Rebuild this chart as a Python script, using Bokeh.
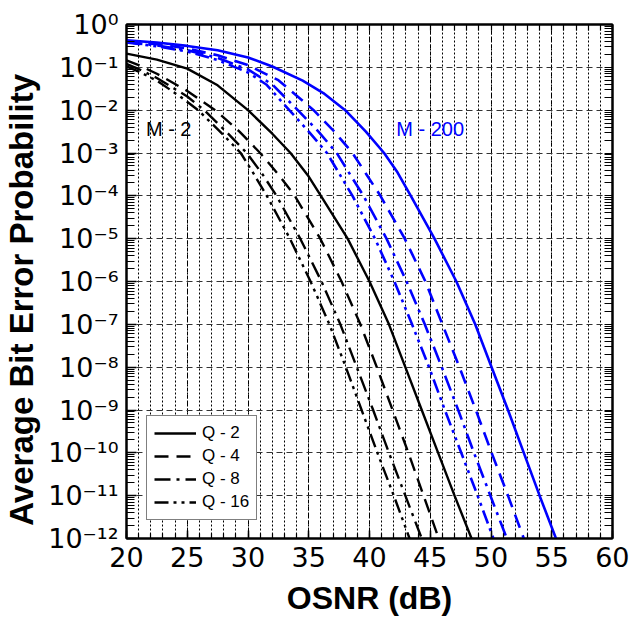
import numpy as np
from bokeh.plotting import figure
from bokeh.models import FixedTicker, LinearAxis, LogAxis, Legend, LegendItem, Label
from bokeh.embed import file_html
from bokeh.resources import INLINE

# ---------------- data (log10 of average bit error probability) ----------------
# M - 2 (black)
m2_q2_osnr = [20, 22.5, 25, 27.5, 30, 32, 33.5, 35, 36, 38.2, 40, 41.6, 42.95, 44.3, 45.65, 47.0, 48.4]
m2_q2_log = [-0.68, -0.82, -1.03, -1.42, -2.0, -2.55, -3.0, -3.55, -4.0, -5, -6, -7, -8, -9, -10, -11, -12]

m2_q4_osnr = [20, 21, 22.5, 25, 27.3, 29.3, 31.0, 32.5, 33.85, 35.95, 37.7, 39.25, 40.6, 41.9, 43.2, 44.45, 45.7]
m2_q4_log = [-0.84, -0.95, -1.15, -1.55, -2.0, -2.5, -3.0, -3.5, -4.0, -5, -6, -7, -8, -9, -10, -11, -12]

m2_q8_osnr = [20, 21, 22.5, 25, 26.4, 28.2, 29.9, 31.2, 32.35, 34.3, 36.05, 37.6, 38.95, 40.3, 41.6, 42.95, 44.3]
m2_q8_log = [-0.92, -1.04, -1.25, -1.68, -2.0, -2.5, -3.0, -3.5, -4.0, -5, -6, -7, -8, -9, -10, -11, -12]

m2_q16_osnr = [20, 21, 22.5, 24.5, 25.9, 27.7, 29.4, 30.5, 31.55, 33.45, 35.15, 36.7, 38.05, 39.35, 40.65, 42.0, 43.3]
m2_q16_log = [-0.98, -1.1, -1.31, -1.7, -2.0, -2.5, -3.0, -3.5, -4.0, -5, -6, -7, -8, -9, -10, -11, -12]

# M - 200 (blue)
m200_q2_osnr = [20, 22.5, 25, 27.5, 30, 32, 34.5, 36.2, 38, 39.7, 41.2, 42.3, 43.4, 45.35, 47.15, 48.7, 50.05, 51.4, 52.7, 54.0, 55.35]
m200_q2_log = [-0.37, -0.42, -0.5, -0.6, -0.77, -0.98, -1.31, -1.6, -2.0, -2.5, -3.0, -3.45, -4.0, -5, -6, -7, -8, -9, -10, -11, -12]

m200_q4_osnr = [20, 22.5, 25, 27.5, 30, 32.5, 35.4, 37.1, 38.6, 39.75, 40.9, 42.9, 44.6, 46.0, 47.4, 48.75, 50.05, 51.4, 52.7]
m200_q4_log = [-0.39, -0.46, -0.56, -0.72, -0.95, -1.3, -2.0, -2.5, -3.0, -3.5, -4, -5, -6, -7, -8, -9, -10, -11, -12]

m200_q8_osnr = [20, 22.5, 25, 27.5, 30, 32, 34.1, 35.8, 37.3, 38.4, 39.5, 41.4, 43.05, 44.55, 45.95, 47.3, 48.6, 49.95, 51.3]
m200_q8_log = [-0.41, -0.49, -0.6, -0.78, -1.05, -1.4, -2.0, -2.5, -3.0, -3.5, -4, -5, -6, -7, -8, -9, -10, -11, -12]

m200_q16_osnr = [20, 22.5, 25, 27.5, 30, 31.5, 33.4, 35.0, 36.5, 37.55, 38.6, 40.45, 42.05, 43.5, 44.9, 46.2, 47.55, 48.9, 50.2]
m200_q16_log = [-0.42, -0.51, -0.63, -0.83, -1.12, -1.4, -2.0, -2.5, -3.0, -3.5, -4, -5, -6, -7, -8, -9, -10, -11, -12]

legend_labels = ["Q - 2", "Q - 4", "Q - 8", "Q - 16"]
x_major_ticks = [20, 25, 30, 35, 40, 45, 50, 55, 60]
x_minor_ticks = list(range(20, 61))
y_exponents = [0, -1, -2, -3, -4, -5, -6, -7, -8, -9, -10, -11, -12]
y_tick_labels = ["10⁰", "10⁻¹", "10⁻²", "10⁻³", "10⁻⁴", "10⁻⁵", "10⁻⁶",
                 "10⁻⁷", "10⁻⁸", "10⁻⁹", "10⁻¹⁰", "10⁻¹¹", "10⁻¹²"]

FONT = "Liberation Sans"
TICK_FONT = "DejaVu Sans"
BLUE = "#0000ff"

p = figure(width=629, height=626, x_range=(20, 60), y_range=(1e-12, 1),
           y_axis_type="log", output_backend="svg", toolbar_location=None,
           min_border_left=122, min_border_right=17, min_border_top=24, min_border_bottom=88)
p.outline_line_color = "black"
p.outline_line_width = 2
p.background_fill_color = "white"
p.border_fill_color = "white"

y_major = [10.0 ** e for e in y_exponents]
y_minor = [m * 10.0 ** e for e in range(-12, 0) for m in range(2, 10)]
xt = FixedTicker(ticks=x_major_ticks, minor_ticks=x_minor_ticks)
yt = FixedTicker(ticks=y_major, minor_ticks=y_minor)


def base_axis(ax):
    ax.axis_line_width = 2
    ax.axis_line_color = "black"
    ax.major_tick_line_color = "black"
    ax.minor_tick_line_color = "black"
    ax.major_tick_out = 0
    ax.minor_tick_out = 0
    ax.major_tick_line_width = 1.5
    ax.minor_tick_line_width = 1.2
    ax.major_label_text_color = "black"
    ax.axis_label_text_color = "black"


# bottom axis
xa = p.xaxis[0]
xa.ticker = xt
base_axis(xa)
xa.major_tick_in = 8
xa.minor_tick_in = 5
xa.major_label_text_font = TICK_FONT
xa.major_label_text_font_size = "27px"
xa.major_label_standoff = 8
xa.axis_label = "OSNR (dB)"
xa.axis_label_text_font = FONT
xa.axis_label_text_font_style = "bold"
xa.axis_label_text_font_size = "32px"
xa.axis_label_standoff = 10

# left axis
ya = p.yaxis[0]
ya.ticker = yt
base_axis(ya)
ya.major_tick_in = 10
ya.minor_tick_in = 8
ya.major_label_text_font = TICK_FONT
ya.major_label_text_font_size = "27px"
ya.major_label_standoff = 8
ya.major_label_overrides = {v: lab for v, lab in zip(y_major, y_tick_labels)}
# trailing no-break spaces shift the centred title slightly downwards, as in the original
ya.axis_label = "Average Bit Error Probability" + "\u00a0" * 4
ya.axis_label_text_font = FONT
ya.axis_label_text_font_style = "bold"
ya.axis_label_text_font_size = "33px"
ya.axis_label_standoff = 5

# mirrored ticks on top and right (minor-only tickers -> no labels)
top = LinearAxis(ticker=FixedTicker(ticks=[], minor_ticks=x_minor_ticks))
base_axis(top)
top.minor_tick_in = 6
p.add_layout(top, "above")
right = LogAxis(ticker=FixedTicker(ticks=[], minor_ticks=y_minor + y_major))
base_axis(right)
right.minor_tick_in = 8
p.add_layout(right, "right")

p.xgrid.ticker = xt
p.xgrid.grid_line_color = "black"
p.xgrid.grid_line_dash = "4 3"
p.xgrid.grid_line_width = 1
p.xgrid.minor_grid_line_color = "black"
p.xgrid.minor_grid_line_dash = "2 2"
p.xgrid.minor_grid_line_width = 1
p.ygrid.ticker = yt
p.ygrid.grid_line_color = "#333333"
p.ygrid.grid_line_dash = "6 4"
p.ygrid.grid_line_width = 1.2


def ber(vals):
    return 10.0 ** np.array(vals, dtype=float)


dashes = ["solid", "14 8", "16 6 3 6", "14 5 3 5 3 5"]

black_sets = [(m2_q2_osnr, m2_q2_log), (m2_q4_osnr, m2_q4_log),
              (m2_q8_osnr, m2_q8_log), (m2_q16_osnr, m2_q16_log)]
blue_sets = [(m200_q2_osnr, m200_q2_log), (m200_q4_osnr, m200_q4_log),
             (m200_q8_osnr, m200_q8_log), (m200_q16_osnr, m200_q16_log)]

for (xs, ls), d in zip(blue_sets, dashes):
    p.line(xs, ber(ls), line_color=BLUE, line_width=2.6, line_dash=d)

black_renderers = []
for (xs, ls), d in zip(black_sets, dashes):
    r = p.line(xs, ber(ls), line_color="black", line_width=2.4, line_dash=d)
    black_renderers.append(r)

legend = Legend(items=[LegendItem(label=lab, renderers=[r]) for lab, r in zip(legend_labels, black_renderers)],
                location=(20, 18))
legend.border_line_color = "black"
legend.border_line_width = 1.5
legend.background_fill_color = "white"
legend.background_fill_alpha = 1
legend.label_text_font = FONT
legend.label_text_font_size = "17px"
legend.label_text_color = "black"
legend.glyph_width = 42
legend.glyph_height = 20
legend.label_height = 20
legend.spacing = 3
legend.padding = 7
legend.label_standoff = 6
legend.margin = 0
p.add_layout(legend)

p.add_layout(Label(x=21.6, y=10 ** -2.43, text="M - 2", text_font=FONT, text_font_size="20px",
                   text_color="black", text_baseline="middle"))
p.add_layout(Label(x=42.2, y=10 ** -2.43, text="M - 200", text_font=FONT, text_font_size="20px",
                   text_color=BLUE, text_baseline="middle"))

open("out.html", "w").write(file_html(p, INLINE))
